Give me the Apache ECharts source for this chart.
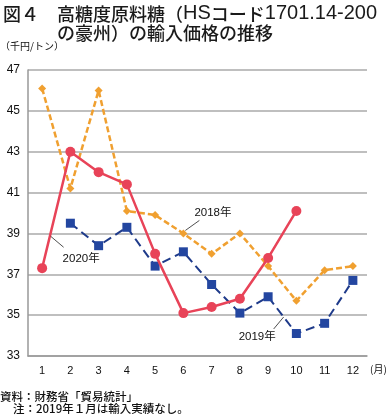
<!DOCTYPE html>
<html><head><meta charset="utf-8">
<script src="https://cdn.jsdelivr.net/npm/echarts@6/dist/echarts.min.js"></script>
<style>html,body{margin:0;padding:0;background:#fff}#c{width:392px;height:417px}</style>
</head><body><div id="c"></div>
<script>
const months = ['1','2','3','4','5','6','7','8','9','10','11','12'];
const yTicks = [33,35,37,39,41,43,45,47];
const s2018 = [46.1,41.2,46.0,40.1,39.9,39.0,38.0,39.0,37.4,35.7,37.2,37.4];
const s2019 = [null,39.5,38.4,39.3,37.4,38.1,36.5,35.1,35.9,34.1,34.6,36.7];
const s2020 = [37.3,43.0,42.0,41.4,38.0,35.1,35.4,35.8,37.8,40.1,null,null];
const names = ['2018年','2019年','2020年'];
const F = "'Liberation Sans','Noto Sans CJK JP',sans-serif";
const J = "'Noto Sans CJK JP','Liberation Sans',sans-serif";
const chart = echarts.init(document.getElementById('c'), null, {renderer:'canvas'});
const option = {
  animation:false,
  backgroundColor:'#fff',
  grid:{left:28,right:25,top:70,bottom:61},
  xAxis:{type:'category',data:months,boundaryGap:true,
    axisLine:{lineStyle:{color:'#999',width:1.5}},
    axisTick:{inside:true,length:4,lineStyle:{color:'#999',width:1.2}},
    axisLabel:{color:'#111',fontSize:11,fontFamily:F,margin:9},
    name:'(月)',nameLocation:'end',nameGap:3,
    nameTextStyle:{color:'#111',fontSize:10,fontFamily:J,verticalAlign:'top',padding:[8,0,0,0]}},
  yAxis:{type:'value',min:yTicks[0],max:yTicks[yTicks.length-1],interval:2,
    axisLine:{show:true,lineStyle:{color:'#999',width:1.5}},
    axisTick:{show:false},
    axisLabel:{color:'#111',fontSize:12,fontFamily:F,margin:8},
    splitLine:{lineStyle:{color:'#aaa',width:1.5}}},
  graphic:[
    {type:'text',left:3,top:3,style:{
      text:'{j|図４　高糖度原料糖（}{l|HS}{j|コード}{l|1701.14-200}',
      rich:{j:{fontSize:18,fontFamily:J,fontWeight:500,fill:'#1a1a1a',verticalAlign:'bottom'},
            l:{fontSize:20,fontFamily:F,fill:'#1a1a1a',verticalAlign:'bottom'}}}},
    {type:'text',left:57,top:24,style:{text:'の豪州）の輸入価格の推移',font:"500 18px 'Noto Sans CJK JP'",fill:'#1a1a1a'}},
    {type:'text',left:0,top:41,style:{text:'（千円/トン）',font:"10px 'Noto Sans CJK JP'",fill:'#111'}},
    {type:'text',left:0,top:391,style:{text:'資料：財務省「貿易統計」',font:"500 11.5px 'Noto Sans CJK JP'",fill:'#111'}},
    {type:'text',left:13,top:403,style:{text:'注：2019年１月は輸入実績なし。',font:"500 11.5px 'Noto Sans CJK JP'",fill:'#111'}}
  ],
  series:[
    {name:names[0],type:'line',data:s2018,symbol:'diamond',symbolSize:8,
      lineStyle:{color:'#F0A030',width:2.5,type:[6,3]},itemStyle:{color:'#F0A030'},z:2},
    {name:names[1],type:'line',data:s2019,symbol:'rect',symbolSize:9,connectNulls:false,
      lineStyle:{color:'#1E3A8A',width:2,type:[9,5]},itemStyle:{color:'#2346A0'},z:3},
    {name:names[2],type:'line',data:s2020,symbol:'circle',symbolSize:10,
      lineStyle:{color:'#E84358',width:2.5},itemStyle:{color:'#E84358'},z:4}
  ]
};
chart.setOption(option);
function mid(i,arr,t){const a=chart.convertToPixel({seriesIndex:0},[i,arr[i]]);const b=chart.convertToPixel({seriesIndex:0},[i+1,arr[i+1]]);return [a[0]+(b[0]-a[0])*t,a[1]+(b[1]-a[1])*t];}
const p18 = chart.convertToPixel({seriesIndex:0},[5,s2018[5]]);
const p20 = mid(0,s2020,0.3);
const p19 = mid(8,s2019,0.55);
const ann = [
  {p:[p18[0]+2,p18[1]-3], q:[p18[0]+16,p18[1]-13], t:names[0], tx:p18[0]+11, ty:p18[1]-26},
  {p:[p20[0],p20[1]+3], q:[p20[0]+13,p20[1]+14], t:names[2], tx:p20[0]+12, ty:p20[1]+20},
  {p:[p19[0],p19[1]], q:[p19[0]-10,p19[1]+12], t:names[1], tx:p19[0]-45, ty:p19[1]+14}
];
const g = option.graphic.slice();
ann.forEach(a=>{
  g.push({type:'line',shape:{x1:a.p[0],y1:a.p[1],x2:a.q[0],y2:a.q[1]},style:{stroke:'#222',lineWidth:0.8},z:10});
  g.push({type:'text',x:a.tx,y:a.ty,style:{text:a.t,font:"11.5px 'Liberation Sans','Noto Sans CJK JP'",fill:'#111'},z:10});
});
chart.setOption({graphic:g});
</script></body></html>
